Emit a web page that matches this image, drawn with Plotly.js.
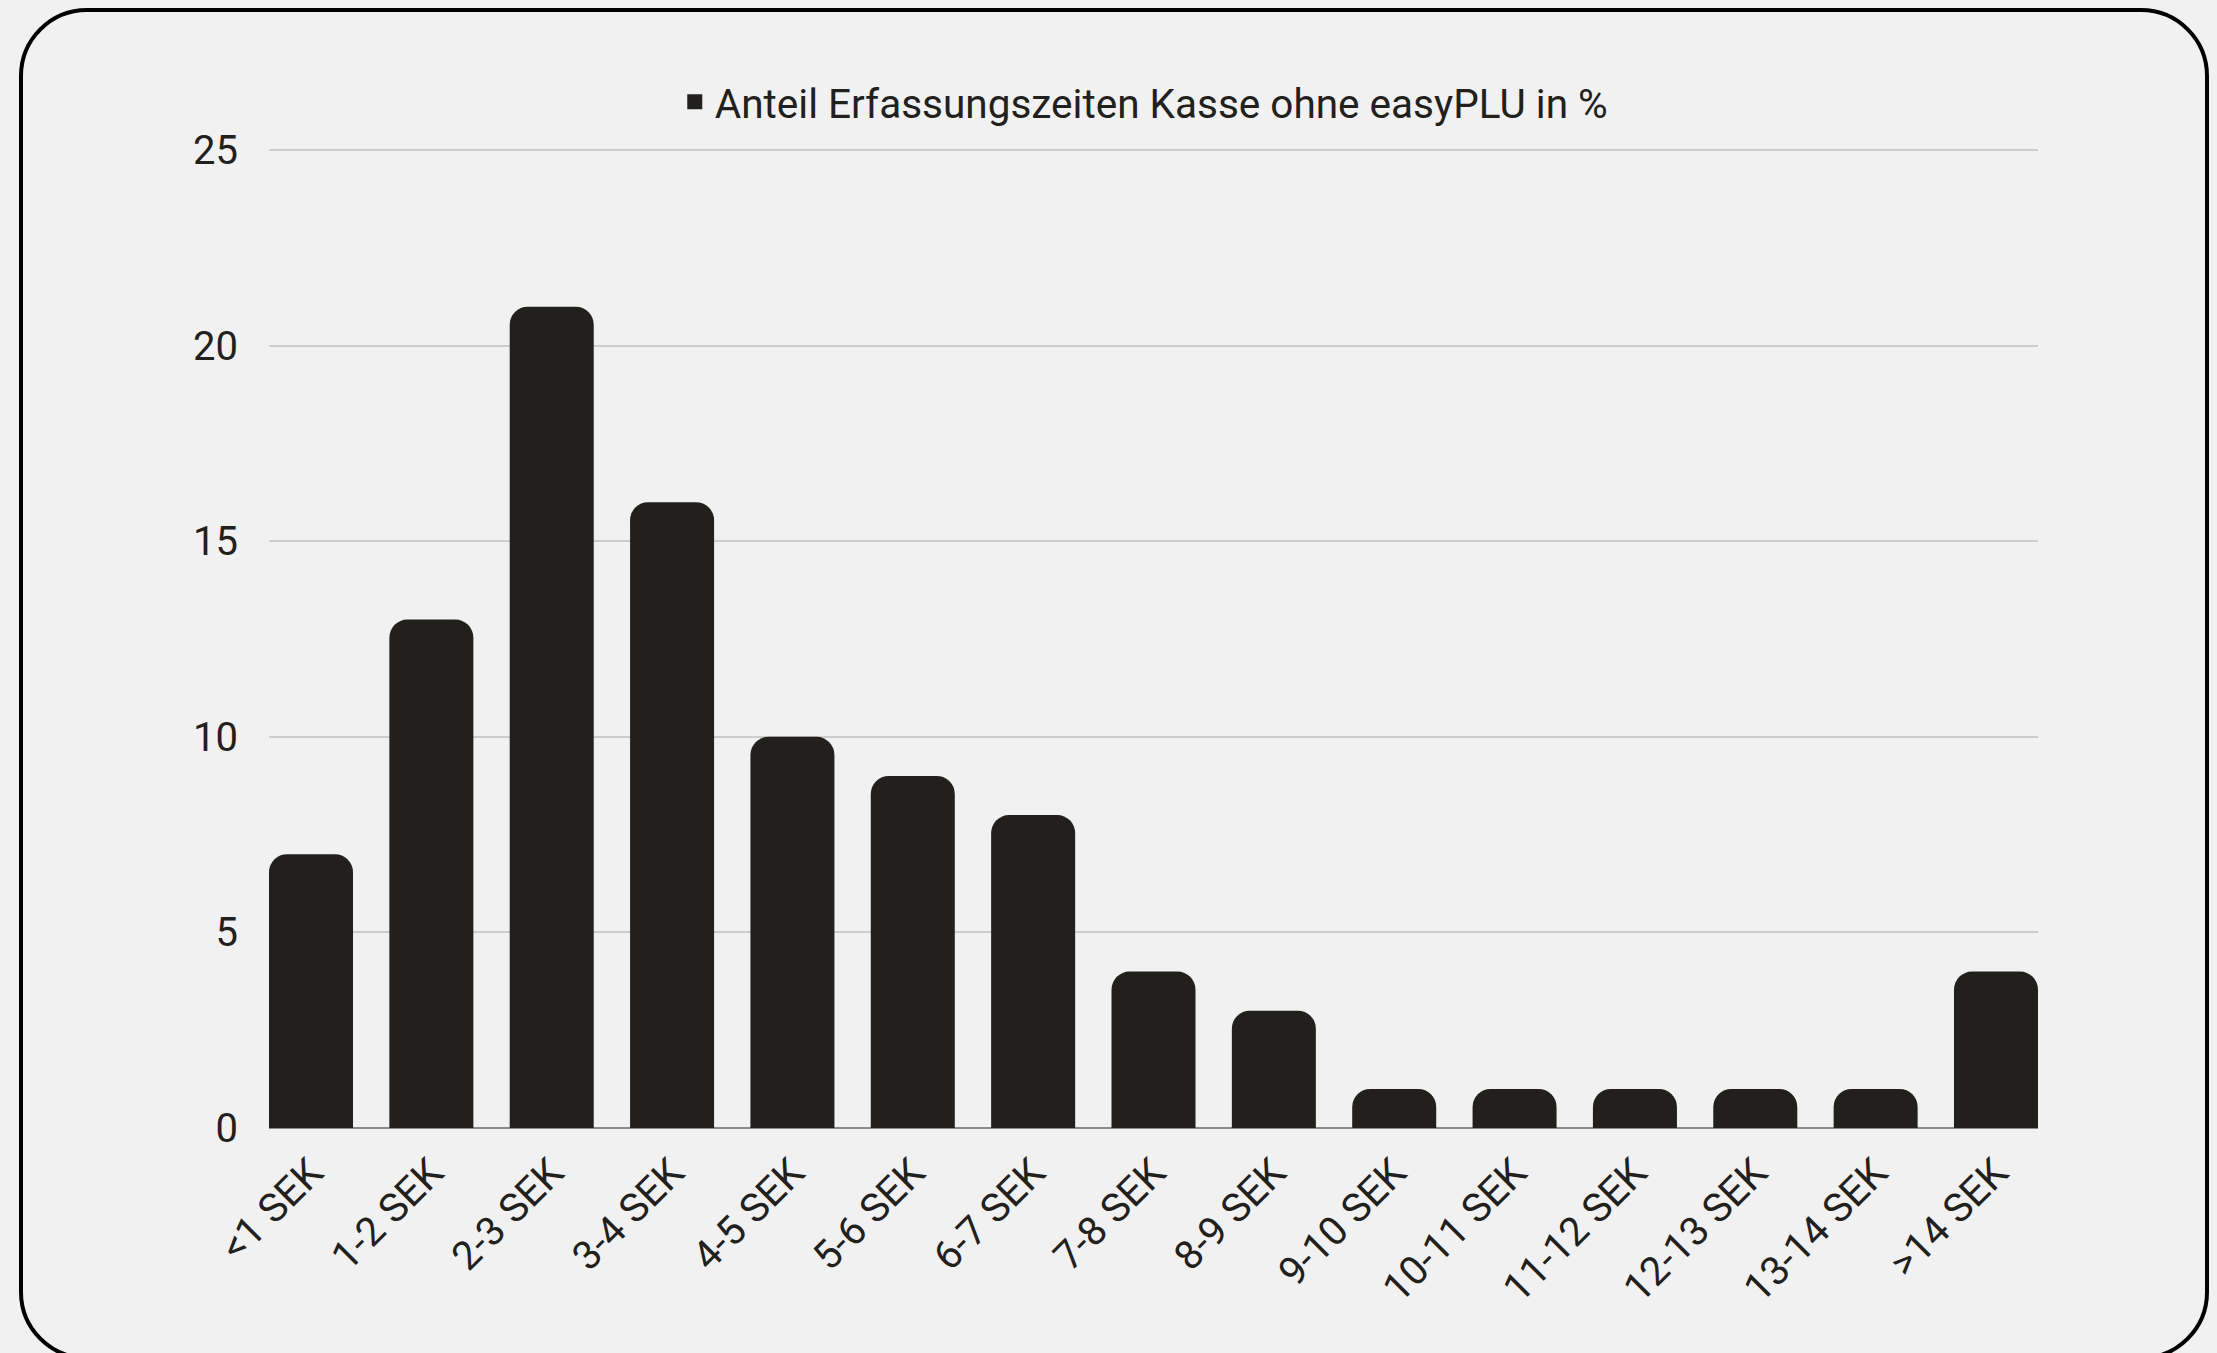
<!DOCTYPE html>
<html>
<head>
<meta charset="utf-8">
<script src="https://cdn.plot.ly/plotly-3.0.1.min.js"></script>
<style>
  html, body { margin:0; padding:0; background:#f1f1f1; }
  body { width:2217px; height:1353px; position:relative; overflow:hidden; }
  #frame { position:absolute; left:19px; top:8px; width:2190px; height:1352px; border:4px solid #000; border-radius:68px; box-sizing:border-box; }
  #chart { position:absolute; left:0; top:0; width:2217px; height:1353px; }
</style>
</head>
<body>
<div id="frame"></div>
<div id="chart"></div>
<script>
const categories = ["<1 SEK","1-2 SEK","2-3 SEK","3-4 SEK","4-5 SEK","5-6 SEK","6-7 SEK","7-8 SEK","8-9 SEK","9-10 SEK","10-11 SEK","11-12 SEK","12-13 SEK","13-14 SEK",">14 SEK"];
const shareValues = [7, 13, 21, 16, 10, 9, 8, 4, 3, 1, 1, 1, 1, 1, 4];
const seriesName = "Anteil Erfassungszeiten Kasse ohne easyPLU in %";
const yTicks = [0, 5, 10, 15, 20, 25];

const FONT = "Roboto, 'Noto Sans', sans-serif";
const INK = "#21201c";

const barTrace = {
  type: "bar",
  x: categories,
  y: shareValues,
  name: seriesName,
  showlegend: false,
  marker: { color: INK, cornerradius: 18, line: { width: 0 } },
  hoverinfo: "x+y"
};

// legend entry only (square swatch like the reference)
const legendTrace = {
  type: "scatter",
  mode: "markers",
  x: [null],
  y: [null],
  name: seriesName,
  showlegend: true,
  marker: { symbol: "square", size: 15, color: INK },
  hoverinfo: "skip"
};

const layout = {
  width: 2217,
  height: 1353,
  paper_bgcolor: "rgba(0,0,0,0)",
  plot_bgcolor: "rgba(0,0,0,0)",
  margin: { l: 269, r: 179, t: 149, b: 225 },
  bargap: 0.302,
  font: { family: FONT, color: INK, size: 40 },
  showlegend: true,
  legend: {
    orientation: "h",
    x: 0.4945, xanchor: "center",
    y: 1.048, yanchor: "middle",
    font: { family: FONT, size: 40.5, color: INK },
    bgcolor: "rgba(0,0,0,0)",
    itemwidth: 30
  },
  xaxis: {
    type: "category",
    range: [-0.349, 14.349],
    tickangle: -45,
    tickfont: { family: FONT, size: 40, color: INK },
    showgrid: false,
    showline: false,
    zeroline: false,
    ticks: "",
    ticklabelstandoff: 12
  },
  yaxis: {
    range: [0, 25.03],
    tickvals: yTicks,
    ticktext: yTicks.map(String),
    tickfont: { family: FONT, size: 40, color: INK },
    showgrid: true,
    gridcolor: "#cccccc",
    gridwidth: 2,
    zeroline: true,
    zerolinecolor: "#8a8a8a",
    zerolinewidth: 2,
    showline: false,
    ticks: "",
    ticklabelstandoff: 30
  }
};

Plotly.newPlot("chart", [barTrace, legendTrace], layout, { displayModeBar: false, staticPlot: true });
</script>
</body>
</html>
